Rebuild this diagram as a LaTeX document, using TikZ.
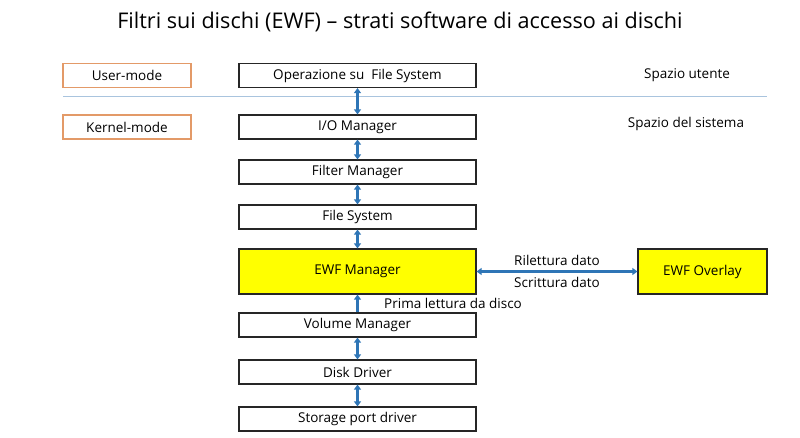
\documentclass[tikz,border=0pt]{standalone}
\usepackage{fontspec}
\setmainfont{Open Sans}
\usetikzlibrary{arrows.meta}
\definecolor{arrblue}{HTML}{2E75B6}
\definecolor{sepblue}{HTML}{A9C4DE}
\definecolor{modeor}{HTML}{E39A68}
\definecolor{ewfy}{HTML}{FFFF00}
\tikzset{
  layer/.style={draw=black!85, line width=1.2pt, minimum width=237pt, minimum height=24pt, inner sep=0pt, font=\fontsize{13.5}{16}\selectfont},
  bigbox/.style={layer, fill=ewfy, minimum height=45pt},
  modebox/.style={draw=modeor, line width=1.2pt, minimum width=128pt, minimum height=24pt, inner sep=0pt, font=\fontsize{13.5}{16}\selectfont},
  lbl/.style={font=\fontsize{13.5}{16}\selectfont, inner sep=1pt},
  dbl/.style={draw=arrblue, line width=2.2pt, {Triangle[width=7pt,length=5pt]}-{Triangle[width=7pt,length=5pt]}},
  sgl/.style={draw=arrblue, line width=2.2pt, -{Triangle[width=7pt,length=5pt]}}
}
\begin{document}
\begin{tikzpicture}[x=1pt,y=-1pt]
\useasboundingbox (0,0) rectangle (800,438);
\node[font=\fontsize{21.6}{26}\selectfont] (title) at (400,22) {Filtri sui dischi (EWF) – strati software di accesso ai dischi};
\draw[sepblue, line width=1pt] (63,97) -- (767,97);
\node[modebox] (um) at (127,75.5) {User-mode};
\node[modebox] (km) at (127,127) {Kernel-mode};
\node[lbl] (su) at (687,75) {Spazio utente};
\node[lbl] (ss) at (686,124) {Spazio del sistema};
\node[layer] (op) at (357.5,75.5) {Operazione su \ File System};
\node[layer] (io) at (357.5,127) {I/O Manager};
\node[layer] (fm) at (357.5,172) {Filter Manager};
\node[layer] (fs) at (357.5,217) {File System};
\node[bigbox] (ewf) at (357.5,271.5) {EWF Manager};
\node[layer] (vm) at (357.5,325) {Volume Manager};
\node[layer] (dd) at (357.5,372) {Disk Driver};
\node[layer] (sp) at (357.5,419) {Storage port driver};
\node[bigbox, minimum width=129pt] (ov) at (702.5,271.5) {EWF Overlay};
\draw[dbl] (op) -- (io);
\draw[dbl] (io) -- (fm);
\draw[dbl] (fm) -- (fs);
\draw[dbl] (fs) -- (ewf);
\draw[sgl] (vm) -- (ewf);
\draw[dbl] (vm) -- (dd);
\draw[dbl] (dd) -- (sp);
\draw[dbl] (ewf) -- (ov) node[midway, above=4pt, lbl] {Rilettura dato} node[midway, below=4pt, lbl] {Scrittura dato};
\node[lbl, anchor=west] (pl) at (383,303) {Prima lettura da disco};
\end{tikzpicture}
\end{document}
